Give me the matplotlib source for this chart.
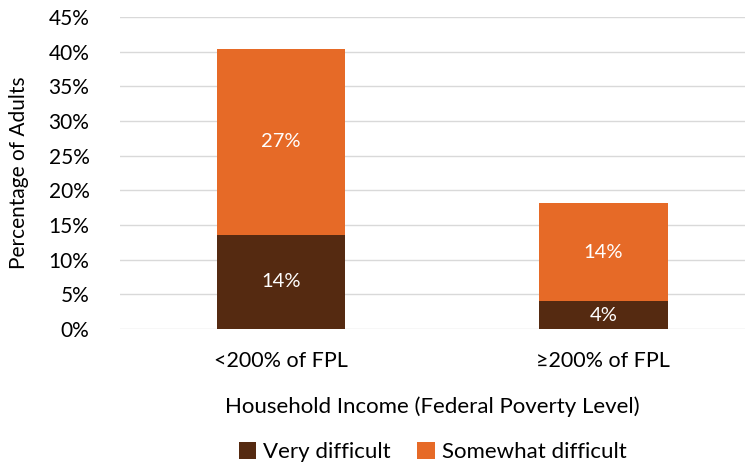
import matplotlib.pyplot as plt

categories = ['<200% of FPL', '≥200% of FPL']
very_difficult = [13.6, 4.0]
somewhat_difficult = [26.8, 14.2]
very_labels = ['14%', '4%']
somewhat_labels = ['27%', '14%']

plt.rcParams['font.family'] = ['Lato', 'DejaVu Sans']

fig = plt.figure(figsize=(7.45, 4.66), dpi=100)
ax = fig.add_axes([0.161, 0.294, 0.839, 0.6695])

x = range(len(categories))
ax.bar(x, very_difficult, width=0.4, color='#552A11', label='Very difficult', zorder=3)
ax.bar(x, somewhat_difficult, width=0.4, bottom=very_difficult, color='#E66A27',
       label='Somewhat difficult', zorder=3)

for i in x:
    ax.text(i, very_difficult[i] / 2, very_labels[i], ha='center', va='center',
            color='white', fontsize=14.5)
    ax.text(i, very_difficult[i] + somewhat_difficult[i] / 2, somewhat_labels[i],
            ha='center', va='center', color='white', fontsize=14.5)

ax.set_ylim(0, 45)
ax.set_xlim(-0.5, 1.44)
ax.set_yticks(range(0, 46, 5))
ax.set_yticklabels([f'{v}%' for v in range(0, 46, 5)], fontsize=15)
ax.set_xticks(list(x))
ax.set_xticklabels(categories, fontsize=15.5)
ax.tick_params(axis='y', length=0, pad=22)
ax.tick_params(axis='x', length=0, pad=16)
ax.grid(axis='y', color='#D9D9D9', linewidth=1, zorder=0)
for s in ax.spines.values():
    s.set_visible(False)

ax.set_ylabel('Percentage of Adults', fontsize=15, labelpad=14)
ax.set_xlabel('Household Income (Federal Poverty Level)', fontsize=16, labelpad=18)

ax.legend(loc='center', bbox_to_anchor=(0.5, -0.395), ncol=2, frameon=False,
          fontsize=16, handlelength=0.8, handleheight=0.8, handletextpad=0.3,
          columnspacing=1.2)

fig.savefig('out.png', dpi=100)
